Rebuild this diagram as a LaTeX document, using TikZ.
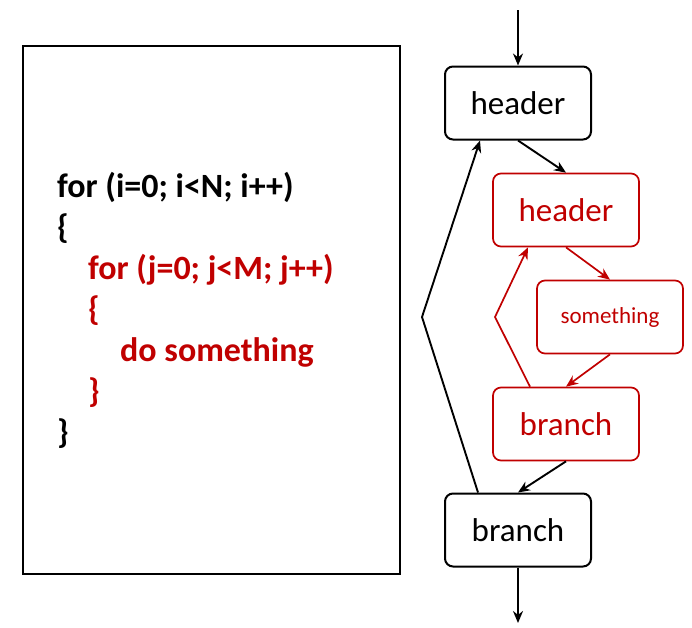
\documentclass[tikz,border=0pt]{standalone}
\usepackage{fontspec}
\setmainfont{Carlito}
\usetikzlibrary{arrows.meta}
\definecolor{loopred}{RGB}{192,0,0}
\tikzset{
  block/.style={draw, rounded corners=8pt, minimum width=146pt, minimum height=73pt,
    line width=2pt, inner sep=0pt, font=\fontsize{33}{36}\selectfont},
  innerblock/.style={block, draw=loopred, text=loopred, line width=1.7pt},
  flow/.style={-{Stealth[length=12pt,width=10pt]}, line width=1.9pt},
  innerflow/.style={flow, draw=loopred, line width=1.7pt},
  codeline/.style={anchor=base west, inner sep=0pt, font=\fontsize{34}{37}\selectfont\bfseries},
}
\begin{document}
\begin{tikzpicture}[x=1pt,y=-1pt]
  \useasboundingbox (0,0) rectangle (692,627);
  \node[draw, line width=1.8pt, minimum width=377pt, minimum height=528pt] (code) at (211.5,310) {};
  \node[codeline] (l1) at (57,197) {for (i=0; i<N; i++)};
  \node[codeline] (l2) at (57,238) {\{};
  \node[codeline, text=loopred] (l3) at (88,279) {for (j=0; j<M; j++)};
  \node[codeline, text=loopred] (l4) at (88,320) {\{};
  \node[codeline, text=loopred] (l5) at (120,361) {do something};
  \node[codeline, text=loopred] (l6) at (88,402) {\}};
  \node[codeline] (l7) at (57,443) {\}};

  \node[block] (h1) at (518,103) {header};
  \node[innerblock] (h2) at (566,210) {header};
  \node[innerblock, font=\fontsize{23}{26}\selectfont] (some) at (610,317) {something};
  \node[innerblock] (b2) at (566,424) {branch};
  \node[block] (b1) at (518,530) {branch};
  \coordinate (in) at (518,10);
  \coordinate (out) at (518,623);
  \coordinate (outerbend) at (422,317);
  \coordinate (innerbend) at (495,317);
  \begin{scope}[flow]
    \draw (in) to (h1);
    \draw (h1.south) to (h2.north);
    \draw (b2.south) to (b1.north);
    \draw (b1) to (out);
    \draw ([xshift=-40pt]b1.north) -- (outerbend) -- ([xshift=-38pt]h1.south);
  \end{scope}
  \begin{scope}[innerflow]
    \draw (h2.south) to (some.north);
    \draw (some.south) to (b2.north);
    \draw ([xshift=-36pt]b2.north) -- (innerbend) -- ([xshift=-38pt]h2.south);
  \end{scope}
\end{tikzpicture}
\end{document}
